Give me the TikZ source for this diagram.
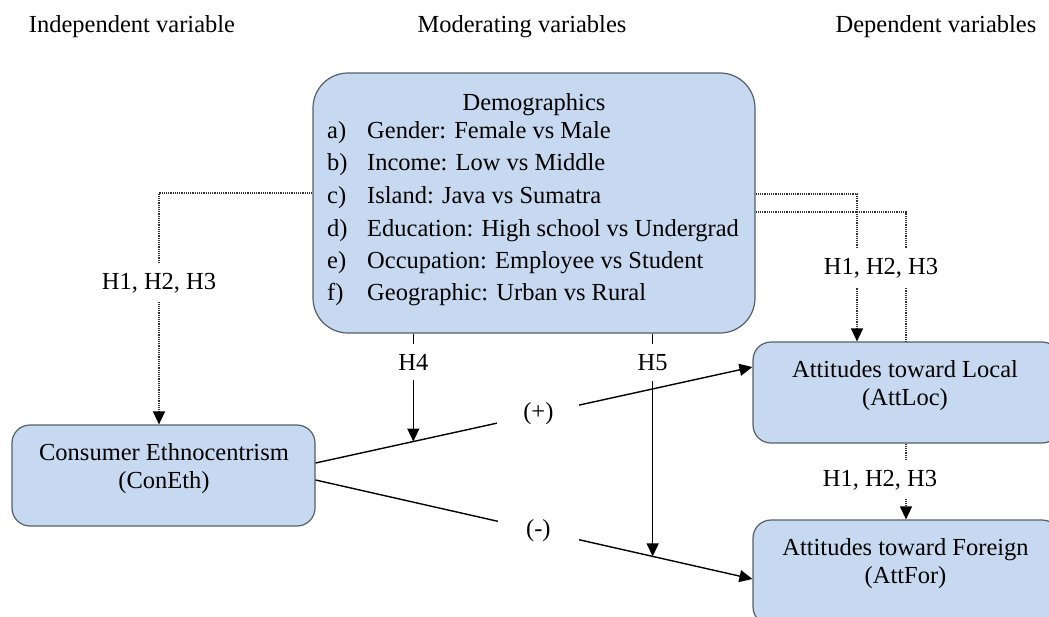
\documentclass[tikz,border=0pt]{standalone}
\usepackage{fontspec}
\setmainfont{Liberation Serif}
\usetikzlibrary{arrows.meta,calc}
\definecolor{boxfill}{RGB}{198,217,240}
\definecolor{boxline}{RGB}{85,95,105}
\begin{document}
\begin{tikzpicture}[x=1pt,y=-1pt,
  font=\fontsize{24.5}{28}\selectfont,
  box/.style={draw=boxline, fill=boxfill, line width=1.2pt, rounded corners=18pt, inner sep=0pt},
  txt/.style={inner sep=0pt, anchor=base},
  itm/.style={inner sep=0pt, anchor=base west},
  lbl/.style={fill=white, inner xsep=4pt, inner ysep=9pt},
  dotline/.style={draw=black!80, line width=1.3pt, dash pattern=on 1.2pt off 1pt},
  solidline/.style={draw=black, line width=1.4pt},
  tip/.style={-{Triangle[length=13pt,width=12pt,color=black]}}
]
\useasboundingbox (0,0) rectangle (1049,616);
\clip (0,0) rectangle (1049,616);

% headers
\node[txt] (hIndep) at (132,32) {Independent variable};
\node[txt] (hMod) at (522,32) {Moderating variables};
\node[txt] (hDep) at (936,32) {Dependent variables};

% boxes
\node[box, rounded corners=35pt, minimum width=442pt, minimum height=260pt] (demo) at (534,203) {};
\node[box, minimum width=303pt, minimum height=101pt] (ConEth) at (163.5,475.5) {};
\node[box, minimum width=307pt, minimum height=101pt] (AttLoc) at (906.5,392.5) {};
\node[box, minimum width=307pt, minimum height=105pt] (AttFor) at (906.5,572.5) {};

% demographics text
\node[txt] (dTitle) at (534,110) {Demographics};
\node[itm] (la) at (327,138) {a)}; \node[itm] (ta) at (367,138) {Gender: Female vs Male};
\node[itm] (lb) at (327,170) {b)}; \node[itm] (tb) at (367,170) {Income: Low vs Middle};
\node[itm] (lc) at (327,203) {c)}; \node[itm] (tc) at (367,203) {Island: Java vs Sumatra};
\node[itm] (ld) at (327,236) {d)}; \node[itm] (td) at (367,236) {Education: High school vs Undergrad};
\node[itm] (le) at (327,268) {e)}; \node[itm] (te) at (367,268) {Occupation: Employee vs Student};
\node[itm] (lf) at (327,300) {f)}; \node[itm] (tf) at (367,300) {Geographic: Urban vs Rural};

% box texts
\node[txt] (c1) at (164,460) {Consumer Ethnocentrism};
\node[txt] (c2) at (164,488) {(ConEth)};
\node[txt] (l1) at (905,377) {Attitudes toward Local};
\node[txt] (l2) at (905,405) {(AttLoc)};
\node[txt] (f1) at (905.5,555) {Attitudes toward Foreign};
\node[txt] (f2) at (905.5,583) {(AttFor)};

% dotted moderation paths
\draw[dotline, tip] ([yshift=10pt]demo.west) -| node[lbl, pos=0.694] (lblL) {H1, H2, H3} ([xshift=-4.5pt]ConEth.north);
\draw[dotline, tip] ([yshift=9pt]demo.east) -| ([xshift=-49.5pt]AttLoc.north);
\draw[dotline] ([yshift=-9pt]demo.east) -| ([xshift=-0.5pt]AttLoc.north);
\node[lbl] (lblR1) at (881,268) {H1, H2, H3};
\draw[dotline, tip] ([xshift=-0.5pt]AttLoc.south) -- ([xshift=-0.5pt]AttFor.north);
\node[lbl] (lblR2) at (880,480) {H1, H2, H3};

% main paths
\coordinate (p1) at ([yshift=12.5pt]ConEth.east);
\coordinate (p2) at ([yshift=25.5pt]AttLoc.west);
\coordinate (q1) at ([yshift=-4.5pt]ConEth.east);
\coordinate (q2) at ([yshift=-6.5pt]AttFor.west);
\draw[solidline, tip] (p1) -- node[lbl, pos=0.51, inner xsep=26pt] (plus) {(+)} (p2);
\draw[solidline, tip] (q1) -- node[lbl, pos=0.51, inner xsep=28pt] (minus) {(-)} (q2);

\coordinate (h4e) at ($(p1)!0.2237!(p2)$);
\coordinate (h5e) at ($(q1)!0.7717!(q2)$);
\draw[solidline, tip] (h4e |- demo.south) -- node[lbl, pos=0.267, inner ysep=10pt] (lblH4) {H4} (h4e);
\draw[solidline, tip] (h5e |- demo.south) -- node[lbl, pos=0.13, inner ysep=10pt] (lblH5) {H5} (h5e);
\end{tikzpicture}
\end{document}
